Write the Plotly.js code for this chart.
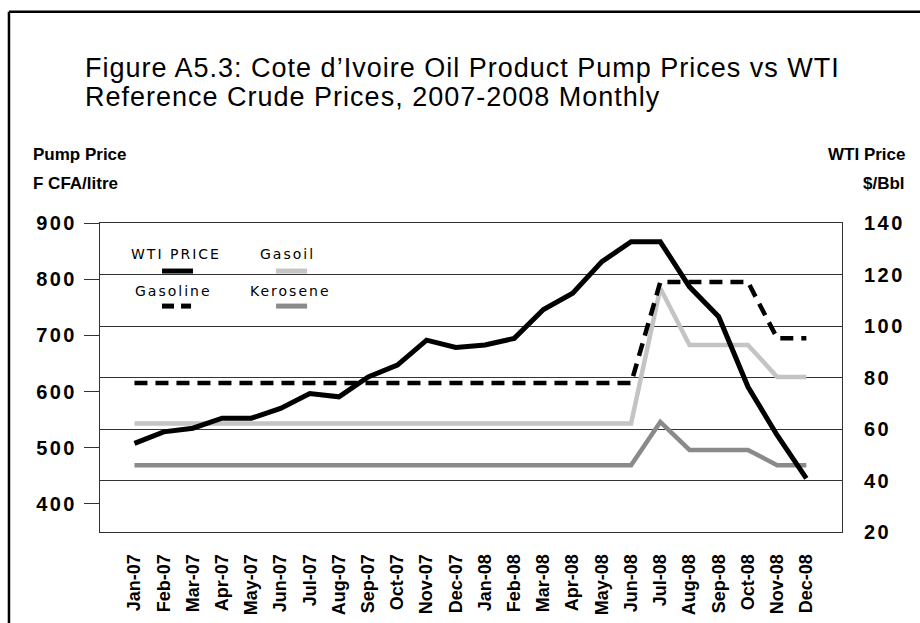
<!DOCTYPE html>
<html>
<head>
<meta charset="utf-8">
<script src="https://cdn.plot.ly/plotly-3.0.1.min.js"></script>
<style>
html,body{margin:0;padding:0;background:#fff;}
#chart{width:920px;height:623px;}
</style>
</head>
<body>
<div id="chart"></div>
<script>
// ---- data ----
const months = ['Jan-07','Feb-07','Mar-07','Apr-07','May-07','Jun-07','Jul-07','Aug-07','Sep-07','Oct-07','Nov-07','Dec-07',
                'Jan-08','Feb-08','Mar-08','Apr-08','May-08','Jun-08','Jul-08','Aug-08','Sep-08','Oct-08','Nov-08','Dec-08'];
// WTI crude, $/Bbl (right axis)
const wtiPrice = [54.4, 58.9, 60.3, 64.2, 64.2, 68.0, 73.8, 72.5, 80.2, 84.8, 94.5, 91.7,
                  92.6, 95.2, 106.4, 112.7, 125.0, 132.7, 132.7, 115.2, 103.6, 76.4, 57.6, 40.8];
// Pump prices, F CFA/litre (left axis)
const gasoline = [615, 615, 615, 615, 615, 615, 615, 615, 615, 615, 615, 615,
                  615, 615, 615, 615, 615, 615, 795, 795, 795, 795, 695, 695];
const gasoil   = [543, 543, 543, 543, 543, 543, 543, 543, 543, 543, 543, 543,
                  543, 543, 543, 543, 543, 543, 784, 683, 683, 683, 626, 626];
const kerosene = [469, 469, 469, 469, 469, 469, 469, 469, 469, 469, 469, 469,
                  469, 469, 469, 469, 469, 469, 546, 496, 496, 496, 469, 469];
const leftTicks  = [400, 500, 600, 700, 800, 900];
const rightTicks = [20, 40, 60, 80, 100, 120, 140];

// ---- layout helpers (pixel -> paper) ----
const L = 100, R = 841.7, T = 223, B = 531.7;
const xp = px => (px - L) / (R - L);
const yp = py => (B - py) / (B - T);

const tickFont = {family: 'Liberation Sans, Arial, sans-serif', size: 20, color: '#000', weight: 700};
const sp = (s, ls) => '<span style="letter-spacing:' + ls + 'px">' + s + '</span>';

const traces = [
  {x: months, y: kerosene, type: 'scatter', mode: 'lines', name: 'Kerosene', yaxis: 'y',
   line: {color: '#8a8a8a', width: 4.5}},
  {x: months, y: gasoil, type: 'scatter', mode: 'lines', name: 'Gasoil', yaxis: 'y',
   line: {color: '#c4c4c4', width: 4.5}},
  {x: months, y: gasoline, type: 'scatter', mode: 'lines', name: 'Gasoline', yaxis: 'y',
   line: {color: '#000', width: 4.5, dash: '13px,8px'}},
  {x: months, y: wtiPrice, type: 'scatter', mode: 'lines', name: 'WTI PRICE', yaxis: 'y2',
   line: {color: '#000', width: 5}}
];

const legFont = {family: 'DejaVu Sans, Verdana, sans-serif', size: 14, color: '#000'};
const annotations = [
  {text: sp('Figure A5.3: Cote d\u2019Ivoire Oil Product Pump Prices vs WTI', 1.0), x: xp(83), y: yp(68),
   xref: 'paper', yref: 'paper', xanchor: 'left', yanchor: 'middle', showarrow: false,
   font: {family: 'Liberation Sans, Arial, sans-serif', size: 27, color: '#000'}},
  {text: sp('Reference Crude Prices, 2007-2008 Monthly', 1.0), x: xp(83), y: yp(97),
   xref: 'paper', yref: 'paper', xanchor: 'left', yanchor: 'middle', showarrow: false,
   font: {family: 'Liberation Sans, Arial, sans-serif', size: 27, color: '#000'}},
  {text: 'Pump Price', x: xp(31), y: yp(155), xref: 'paper', yref: 'paper', xanchor: 'left', yanchor: 'middle',
   showarrow: false, font: {family: 'Liberation Sans, Arial, sans-serif', size: 17, color: '#000', weight: 700}},
  {text: 'F CFA/litre', x: xp(31), y: yp(184), xref: 'paper', yref: 'paper', xanchor: 'left', yanchor: 'middle',
   showarrow: false, font: {family: 'Liberation Sans, Arial, sans-serif', size: 17, color: '#000', weight: 700}},
  {text: 'WTI Price', x: xp(907), y: yp(155), xref: 'paper', yref: 'paper', xanchor: 'right', yanchor: 'middle',
   showarrow: false, font: {family: 'Liberation Sans, Arial, sans-serif', size: 17, color: '#000', weight: 700}},
  {text: '$/Bbl', x: xp(907), y: yp(184), xref: 'paper', yref: 'paper', xanchor: 'right', yanchor: 'middle',
   showarrow: false, font: {family: 'Liberation Sans, Arial, sans-serif', size: 17, color: '#000', weight: 700}},
  // legend labels
  {text: sp('WTI PRICE', 2), x: xp(176), y: yp(254), xref: 'paper', yref: 'paper', xanchor: 'center', yanchor: 'middle', showarrow: false, font: legFont},
  {text: sp('Gasoil', 2), x: xp(287), y: yp(254), xref: 'paper', yref: 'paper', xanchor: 'center', yanchor: 'middle', showarrow: false, font: legFont},
  {text: sp('Gasoline', 2), x: xp(173), y: yp(291), xref: 'paper', yref: 'paper', xanchor: 'center', yanchor: 'middle', showarrow: false, font: legFont},
  {text: sp('Kerosene', 2), x: xp(290), y: yp(291), xref: 'paper', yref: 'paper', xanchor: 'center', yanchor: 'middle', showarrow: false, font: legFont}
];

const shapes = [
  // outer frame (top and left edges visible)
  {type: 'line', xref: 'paper', yref: 'paper', x0: xp(9), x1: xp(925), y0: yp(12), y1: yp(12), line: {color: '#000', width: 2.5}},
  {type: 'line', xref: 'paper', yref: 'paper', x0: xp(9), x1: xp(9), y0: yp(12), y1: yp(630), line: {color: '#000', width: 2.5}},
  // legend samples
  {type: 'line', xref: 'paper', yref: 'paper', x0: xp(162), x1: xp(193), y0: yp(271), y1: yp(271), line: {color: '#000', width: 5}},
  {type: 'line', xref: 'paper', yref: 'paper', x0: xp(276), x1: xp(307), y0: yp(271), y1: yp(271), line: {color: '#c4c4c4', width: 5}},
  {type: 'line', xref: 'paper', yref: 'paper', x0: xp(162), x1: xp(174), y0: yp(306), y1: yp(306), line: {color: '#000', width: 5}},
  {type: 'line', xref: 'paper', yref: 'paper', x0: xp(181), x1: xp(191), y0: yp(306), y1: yp(306), line: {color: '#000', width: 5}},
  {type: 'line', xref: 'paper', yref: 'paper', x0: xp(276), x1: xp(307), y0: yp(306), y1: yp(306), line: {color: '#8a8a8a', width: 5}}
];

const layout = {
  width: 920, height: 623,
  margin: {l: L, r: 920 - R, t: T, b: 623 - B, pad: 0},
  paper_bgcolor: '#fff', plot_bgcolor: '#fff',
  showlegend: false,
  xaxis: {
    type: 'category', range: [-1.18, 24.22], fixedrange: true,
    showgrid: false, zeroline: false, showline: true, mirror: true, linecolor: '#333', linewidth: 1,
    ticks: '', tickangle: -90, ticklabelstandoff: 14,
    tickfont: {family: 'Liberation Sans, Arial, sans-serif', size: 18, color: '#000', weight: 700}
  },
  yaxis: {
    range: [350, 900], tickmode: 'array', tickvals: leftTicks, ticktext: leftTicks.map(v => sp(String(v), 2.5)),
    showgrid: false, zeroline: false, showline: true, linecolor: '#333', linewidth: 1,
    ticks: 'outside', ticklen: 15, tickwidth: 1, tickcolor: '#333', ticklabelstandoff: 3,
    tickfont: tickFont
  },
  yaxis2: {
    range: [20, 140], overlaying: 'y', side: 'right', tickmode: 'array', tickvals: rightTicks,
    ticktext: rightTicks.map(v => sp(String(v), 2.5)),
    showgrid: true, gridcolor: '#333', gridwidth: 1, zeroline: false,
    showline: true, linecolor: '#333', linewidth: 1, ticks: '', ticklabelstandoff: 17,
    tickfont: tickFont
  },
  annotations: annotations,
  shapes: shapes
};

Plotly.newPlot('chart', traces, layout, {staticPlot: true, displayModeBar: false});
</script>
</body>
</html>
